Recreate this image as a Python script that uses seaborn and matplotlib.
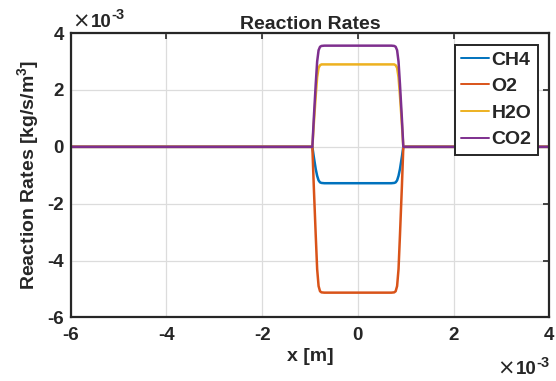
import matplotlib.pyplot as plt
import pandas as pd
import seaborn as sns

# posicao em unidades de 1e-3 m, taxas em unidades de 1e-3 kg/s/m3
x_mm = [-6.0, -0.95, -0.92, -0.88, -0.85, -0.82, -0.79, -0.76, -0.70, 0.0,
        0.70, 0.76, 0.79, 0.82, 0.85, 0.88, 0.92, 0.95, 4.0]
ch4 = [0.0, 0.0, -0.35, -0.78, -1.02, -1.18, -1.25, -1.27, -1.28, -1.28,
       -1.28, -1.27, -1.25, -1.18, -1.02, -0.78, -0.35, 0.0, 0.0]
o2 = [0.0, 0.0, -1.4, -3.1, -4.3, -4.9, -5.08, -5.12, -5.13, -5.13,
      -5.13, -5.12, -5.08, -4.9, -4.3, -3.1, -1.4, 0.0, 0.0]
h2o = [0.0, 0.0, 0.8, 1.8, 2.45, 2.78, 2.87, 2.9, 2.9, 2.9,
       2.9, 2.9, 2.87, 2.78, 2.45, 1.8, 0.8, 0.0, 0.0]
co2 = [0.0, 0.0, 1.0, 2.2, 3.0, 3.4, 3.52, 3.55, 3.56, 3.56,
       3.56, 3.55, 3.52, 3.4, 3.0, 2.2, 1.0, 0.0, 0.0]

especies = ['CH4', 'O2', 'H2O', 'CO2']
cores = ['#0072BD', '#D95319', '#EDB120', '#7E2F8E']
ticks = [-6, -4, -2, 0, 2, 4]

df = pd.concat([
    pd.DataFrame({'x': x_mm, 'taxa': vals, 'especie': nome})
    for nome, vals in zip(especies, [ch4, o2, h2o, co2])
])

sns.set_style('white')
plt.rcParams['font.family'] = ['Liberation Sans', 'DejaVu Sans']
plt.rcParams['font.weight'] = 'bold'
plt.rcParams['axes.unicode_minus'] = False
plt.rcParams['mathtext.fontset'] = 'custom'
plt.rcParams['mathtext.rm'] = 'Liberation Sans:bold'
plt.rcParams['mathtext.bf'] = 'Liberation Sans:bold'
plt.rcParams['mathtext.default'] = 'bf'

fs_tick = 13.5
fs_lab = 14
cinza = '#262626'

fig = plt.figure(figsize=(5.56, 3.81), dpi=100)
ax = fig.add_axes([0.127, 0.167, 0.861, 0.746])

sns.lineplot(data=df, x='x', y='taxa', hue='especie', hue_order=especies,
             palette=dict(zip(especies, cores)), linewidth=1.8, ax=ax,
             estimator=None, sort=False)

ax.set_xlim(-6, 4)
ax.set_ylim(-6, 4)
ax.set_xticks(ticks)
ax.set_yticks(ticks)
ax.grid(True, color='#dcdcdc', linewidth=0.9)
ax.tick_params(direction='in', length=4, width=1.2, top=True, right=True,
               labelsize=fs_tick, colors=cinza)
ax.tick_params(axis='x', pad=7)
ax.tick_params(axis='y', pad=5)
for lab in ax.get_xticklabels() + ax.get_yticklabels():
    lab.set_fontweight('bold')
for s in ax.spines.values():
    s.set_color(cinza)
    s.set_linewidth(1.6)

ax.set_title('Reaction Rates', fontsize=fs_lab, fontweight='bold', pad=3)
ax.set_xlabel('x [m]', fontsize=fs_lab, fontweight='bold', labelpad=3)
ax.set_ylabel('Reaction Rates [kg/s/m$^{3}$]', fontsize=fs_lab,
              fontweight='bold', labelpad=4)


# fator de escala estilo MATLAB: "x10" com expoente "-3" (hifen normal)
def fator_escala(x, y):
    t1 = fig.text(x, y, '\u00d7', fontsize=fs_lab + 1, fontweight='normal',
                  family='DejaVu Sans', color=cinza, ha='left', va='baseline')
    t2 = ax.annotate('10', xy=(1, 0), xycoords=t1, xytext=(0.5, 0.6),
                     textcoords='offset points', ha='left', va='bottom',
                     fontsize=fs_tick, fontweight='bold', color=cinza,
                     annotation_clip=False)
    t3 = ax.annotate('-3', xy=(1, 1), xycoords=t2, xytext=(0, 4),
                     textcoords='offset points', ha='left', va='top',
                     fontsize=fs_tick * 0.78, fontweight='bold', color=cinza,
                     annotation_clip=False)
    return t1, t2, t3


fator_escala(0.130, 0.928)
fator_escala(0.895, 0.016)

leg = ax.legend(loc='upper right', fontsize=fs_lab, frameon=True, fancybox=False,
                handlelength=1.4, handletextpad=0.15, borderaxespad=0.6,
                labelspacing=0.46, borderpad=0.32)
leg.get_frame().set_edgecolor(cinza)
leg.get_frame().set_linewidth(1.4)
leg.get_frame().set_alpha(1)
for t in leg.get_texts():
    t.set_fontweight('bold')
for h in leg.get_lines():
    h.set_linewidth(1.4)

fig.savefig('out.png', dpi=100)
